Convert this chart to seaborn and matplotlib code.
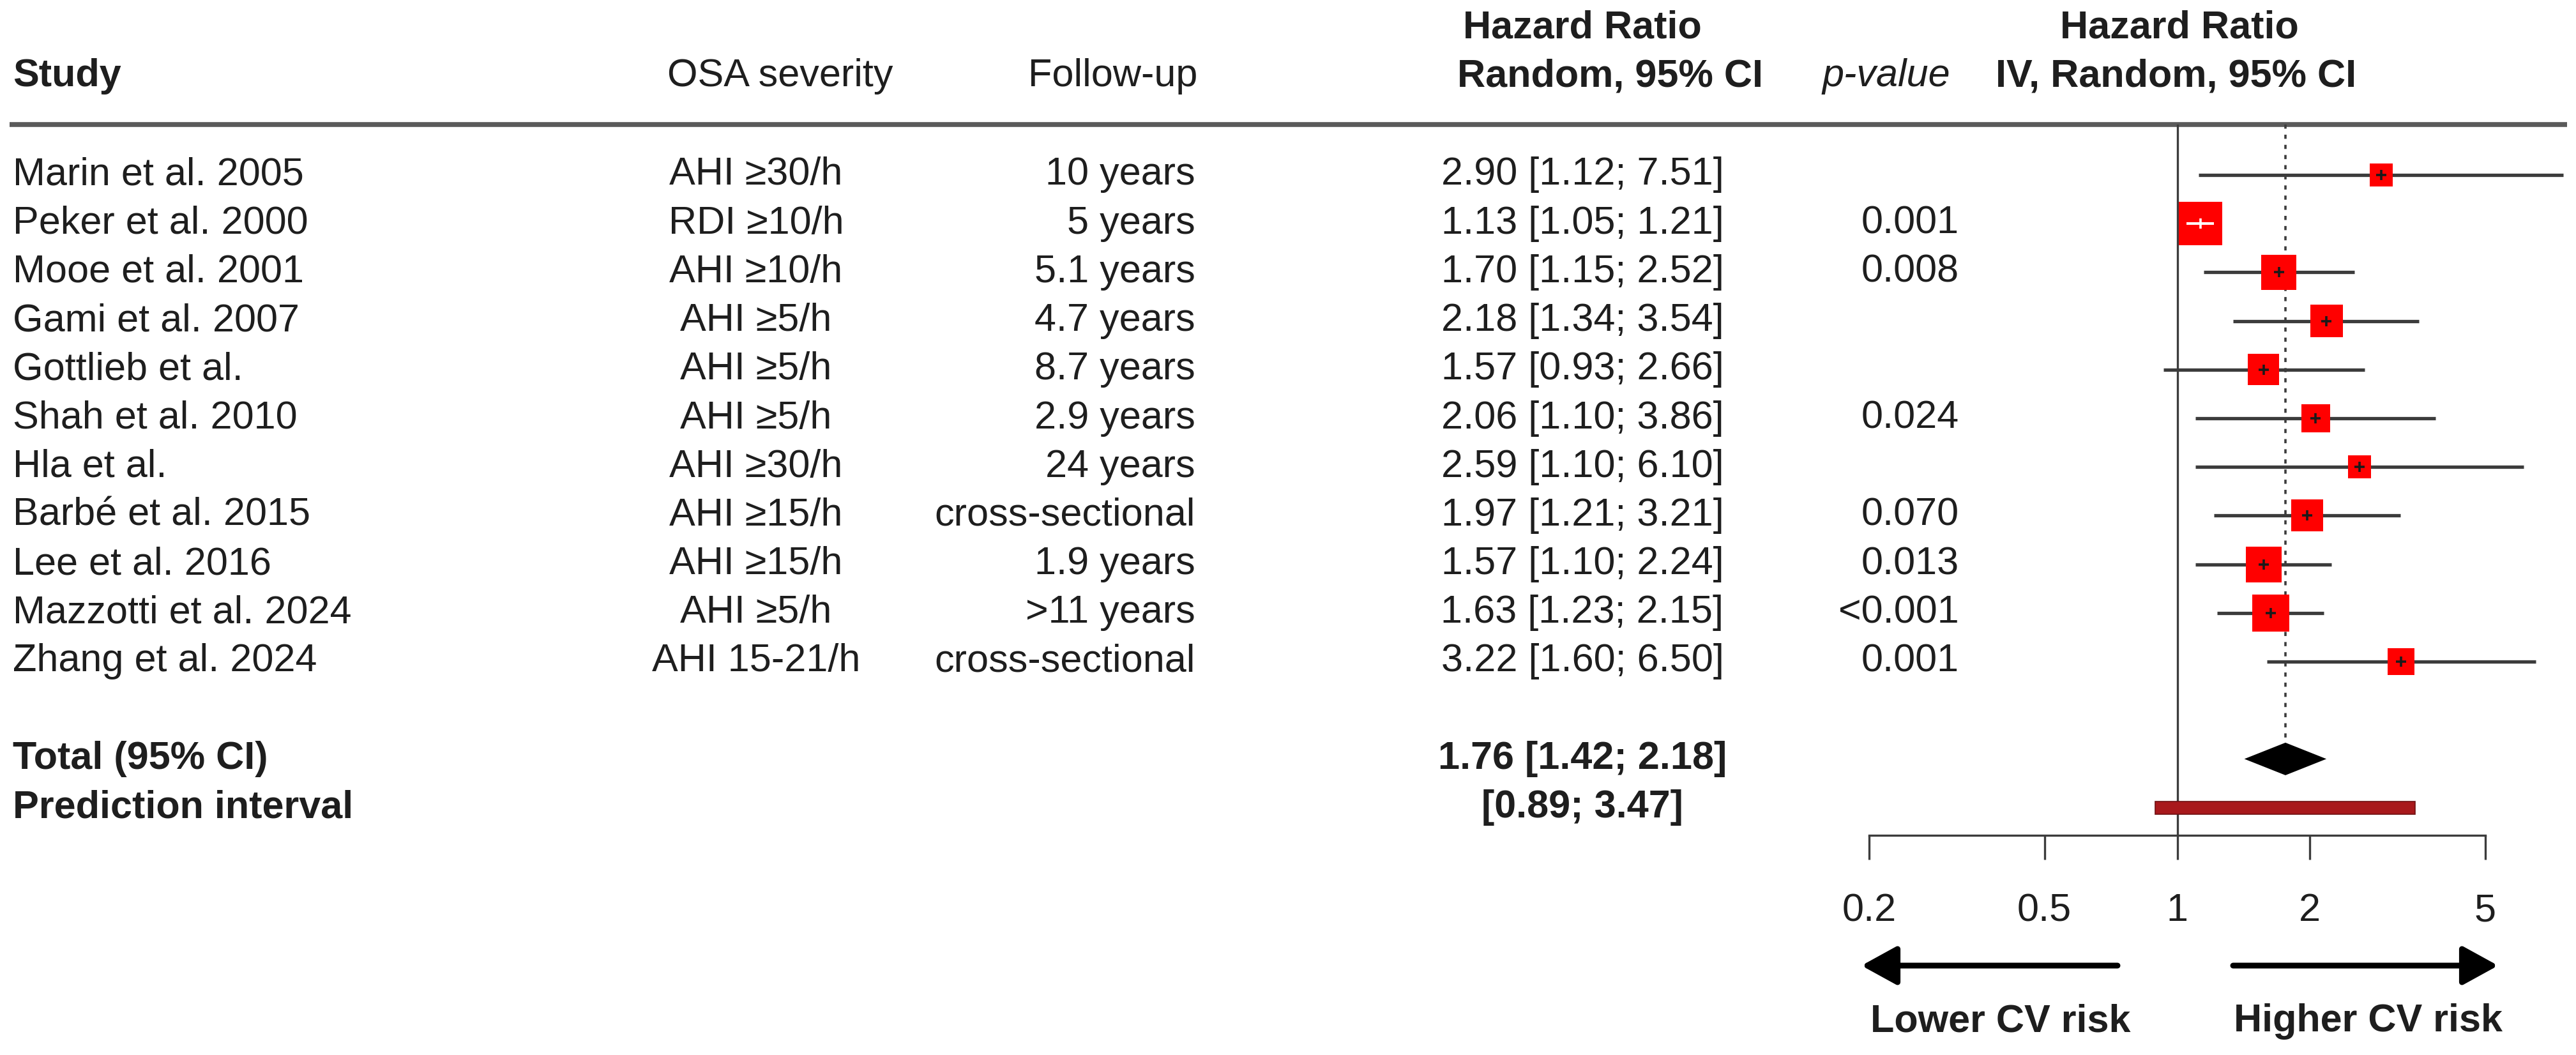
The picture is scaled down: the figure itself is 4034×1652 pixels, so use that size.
import numpy as np
import pandas as pd
import matplotlib
matplotlib.use("Agg")
import matplotlib.pyplot as plt
from matplotlib.ticker import NullLocator
from matplotlib.patches import ArrowStyle
import seaborn as sns

# data
studies = ["Marin et al. 2005", "Peker et al. 2000", "Mooe et al. 2001", "Gami et al. 2007",
           "Gottlieb et al.", "Shah et al. 2010", "Hla et al.", "Barbé et al. 2015",
           "Lee et al. 2016", "Mazzotti et al. 2024", "Zhang et al. 2024"]
severity = ["AHI ≥30/h", "RDI ≥10/h", "AHI ≥10/h", "AHI ≥5/h", "AHI ≥5/h", "AHI ≥5/h",
            "AHI ≥30/h", "AHI ≥15/h", "AHI ≥15/h", "AHI ≥5/h", "AHI 15-21/h"]
followup = ["10 years", "5 years", "5.1 years", "4.7 years", "8.7 years", "2.9 years",
            "24 years", "cross-sectional", "1.9 years", ">11 years", "cross-sectional"]
hr = [2.90, 1.13, 1.70, 2.18, 1.57, 2.06, 2.59, 1.97, 1.57, 1.63, 3.22]
lower = [1.12, 1.05, 1.15, 1.34, 0.93, 1.10, 1.10, 1.21, 1.10, 1.23, 1.60]
upper = [7.51, 1.21, 2.52, 3.54, 2.66, 3.86, 6.10, 3.21, 2.24, 2.15, 6.50]
pvals = ["", "0.001", "0.008", "", "", "0.024", "", "0.070", "0.013", "<0.001", "0.001"]
# approximate weights (%) judged from the square areas
weights = [4.6, 16.5, 10.8, 9.3, 8.6, 7.2, 4.6, 8.9, 11.2, 12.0, 6.3]

total_hr, total_lo, total_hi = 1.76, 1.42, 2.18
pi_lo, pi_hi = 0.89, 3.47
tick_vals = [0.2, 0.5, 1, 2, 5]
tick_labels = ["0.2", "0.5", "1", "2", "5"]

df = pd.DataFrame({"study": studies, "severity": severity, "followup": followup,
                   "hr": hr, "lower": lower, "upper": upper, "p": pvals, "w": weights})
df["row"] = np.arange(len(df))
total_row = len(df) + 1
pi_row = len(df) + 2

# layout (pixels of the 4034x1652 canvas)
W, H = 4034, 1652
DPI = 100
ROW0, ROWH = 274, 76.2          # y pixel of first row, row spacing
X1, K = 3409.5, 299.8           # x pixel of HR=1, pixels per log unit


def row_of(py):
    return (py - ROW0) / ROWH


def hr_at(px):
    return np.exp((px - X1) / K)


sns.set_theme(style="white")
plt.rcParams["font.family"] = ["Liberation Sans", "DejaVu Sans"]
fs = 44
txt = "#1e1e1e"
grey = "#3c3c3c"

fig = plt.figure(figsize=(W / DPI, H / DPI), dpi=DPI)

# table part
ax_t = fig.add_axes([0, 0, 1, 1])
ax_t.set_xlim(0, W)
ax_t.set_ylim(row_of(H), row_of(0))
ax_t.axis("off")

h1, h2 = row_of(44), row_of(120)
ax_t.text(20, h2, "Study", fontsize=fs, fontweight="bold", ha="left", va="center", color=txt)
ax_t.text(1222, h2, "OSA severity", fontsize=fs, ha="center", va="center", color=txt)
ax_t.text(1875, h2, "Follow-up", fontsize=fs, ha="right", va="center", color=txt)
ax_t.text(2478, h1, "Hazard Ratio", fontsize=fs, fontweight="bold", ha="center", va="center", color=txt)
ax_t.text(2522, h2, "Random, 95% CI", fontsize=fs, fontweight="bold", ha="center", va="center", color=txt)
ax_t.text(2954, h2, "p-value", fontsize=fs, fontstyle="italic", ha="center", va="center", color=txt)
ax_t.text(3413, h1, "Hazard Ratio", fontsize=fs, fontweight="bold", ha="center", va="center", color=txt)
ax_t.text(3408, h2, "IV, Random, 95% CI", fontsize=fs, fontweight="bold", ha="center", va="center", color=txt)
ax_t.plot([15, 4020], [row_of(195), row_of(195)], color="#5a5a5a", lw=5.5, solid_capstyle="butt")

for _, r in df.iterrows():
    ax_t.text(20, r["row"], r["study"], fontsize=fs, ha="left", va="center", color=txt)
    ax_t.text(1184, r["row"], r["severity"], fontsize=fs, ha="center", va="center", color=txt)
    ax_t.text(1872, r["row"], r["followup"], fontsize=fs, ha="right", va="center", color=txt)
    ax_t.text(2478, r["row"], f"{r['hr']:.2f} [{r['lower']:.2f}; {r['upper']:.2f}]",
              fontsize=fs, ha="center", va="center", color=txt)
    ax_t.text(3068, r["row"], r["p"], fontsize=fs, ha="right", va="center", color=txt)

ax_t.text(20, total_row, "Total (95% CI)", fontsize=fs, fontweight="bold", ha="left", va="center", color=txt)
ax_t.text(20, pi_row, "Prediction interval", fontsize=fs, fontweight="bold", ha="left", va="center", color=txt)
ax_t.text(2478, total_row, f"{total_hr:.2f} [{total_lo:.2f}; {total_hi:.2f}]", fontsize=fs,
          fontweight="bold", ha="center", va="center", color=txt)
ax_t.text(2478, pi_row, f"[{pi_lo:.2f}; {pi_hi:.2f}]", fontsize=fs,
          fontweight="bold", ha="center", va="center", color=txt)

# forest part
fx0, fx1, fy0, fy1 = 2880, W, 195, 1308
ax_f = fig.add_axes([fx0 / W, (H - fy1) / H, (fx1 - fx0) / W, (fy1 - fy0) / H])
ax_f.patch.set_alpha(0)
ax_f.set_xscale("log")
ax_f.set_xlim(hr_at(fx0), hr_at(fx1))
ax_f.set_ylim(row_of(fy1), row_of(fy0))

ax_f.axvline(1, color=grey, lw=2.4, zorder=1)
dh = 25.5 / ROWH
ax_f.vlines(total_hr, row_of(fy0), total_row - dh, color=grey, lw=2.6,
            linestyles=(0, (1.8, 2.6)), zorder=1)

ax_f.hlines(df["row"], df["lower"], df["upper"], color=grey, lw=3.8, zorder=2)

side_px = 68 * np.sqrt(df["w"] / df["w"].max())
sizes = (side_px * 72 / DPI) ** 2
sns.scatterplot(x=df["hr"], y=df["row"], s=sizes, marker="s", color="#ff0000",
                linewidth=0, ax=ax_f, zorder=3)

# CI fully inside its square is drawn in white
px_hr = ax_f.transData.transform(np.c_[df["hr"], df["row"]])[:, 0]
px_lo = ax_f.transData.transform(np.c_[df["lower"], df["row"]])[:, 0]
px_hi = ax_f.transData.transform(np.c_[df["upper"], df["row"]])[:, 0]
inside = ((px_hr - px_lo) < side_px / 2) & ((px_hi - px_hr) < side_px / 2)
for i in df.index:
    c = "white" if inside[i] else "#1a1a1a"
    if inside[i]:
        ax_f.hlines(df.loc[i, "row"], df.loc[i, "lower"], df.loc[i, "upper"], color=c, lw=3, zorder=4)
    ax_f.plot(df.loc[i, "hr"], df.loc[i, "row"], marker="+", ms=11, mew=2.6, color=c, zorder=5)

ax_f.fill([total_lo, total_hr, total_hi, total_hr],
          [total_row, total_row - dh, total_row, total_row + dh], color="black", lw=0, zorder=3)
ax_f.barh(pi_row, pi_hi - pi_lo, left=pi_lo, height=20 / ROWH, color="#a8191c",
          edgecolor="#6e1012", linewidth=1.2, zorder=3)

for s in ["left", "top", "right"]:
    ax_f.spines[s].set_visible(False)
ax_f.spines["bottom"].set_bounds(tick_vals[0], tick_vals[-1])
ax_f.spines["bottom"].set_color(grey)
ax_f.spines["bottom"].set_linewidth(2.4)
ax_f.set_xticks(tick_vals)
ax_f.set_xticklabels(tick_labels)
ax_f.xaxis.set_minor_locator(NullLocator())
ax_f.set_yticks([])
ax_f.tick_params(axis="x", bottom=True, direction="out", length=27, width=2.4,
                 color=grey, pad=38, labelsize=fs, labelcolor=txt)
ax_f.set_xlabel("")
ax_f.set_ylabel("")
ax_f.grid(False)

# direction arrows
ya = -(1512 - fy1) / (fy1 - fy0)
yl = -(1600 - fy1) / (fy1 - fy0)
tr = ax_f.get_xaxis_transform()
astyle = ArrowStyle("-|>", head_length=0.4, head_width=0.22)
ax_f.annotate("", xy=(hr_at(2915), ya), xytext=(hr_at(3316), ya), xycoords=tr,
              arrowprops=dict(arrowstyle=astyle, mutation_scale=85, lw=6.5, color="black",
                              shrinkA=0, shrinkB=0))
ax_f.annotate("", xy=(hr_at(3912), ya), xytext=(hr_at(3497), ya), xycoords=tr,
              arrowprops=dict(arrowstyle=astyle, mutation_scale=85, lw=6.5, color="black",
                              shrinkA=0, shrinkB=0))
ax_f.text(hr_at(3133), yl, "Lower CV risk", transform=tr, fontsize=fs, fontweight="bold",
          ha="center", va="center", color=txt)
ax_f.text(hr_at(3708), yl, "Higher CV risk", transform=tr, fontsize=fs, fontweight="bold",
          ha="center", va="center", color=txt)

fig.savefig("out.png", dpi=DPI)
